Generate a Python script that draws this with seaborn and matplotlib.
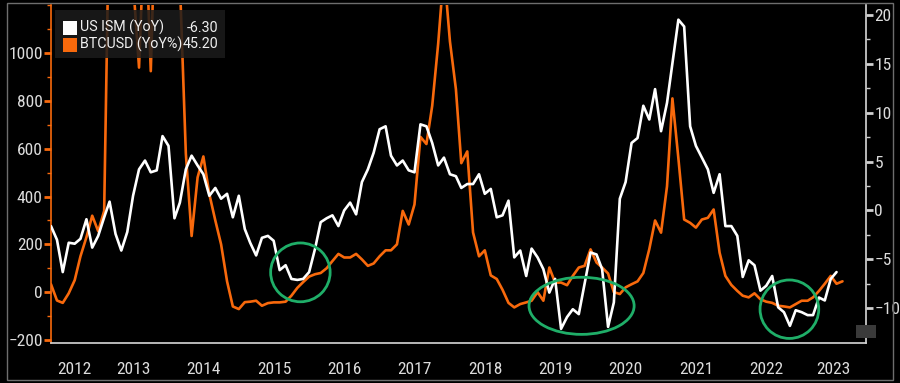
import numpy as np
import pandas as pd
import seaborn as sns
import matplotlib.pyplot as plt
import matplotlib.dates as mdates
from matplotlib.patches import Ellipse, Rectangle

# US ISM manufacturing (YoY), monthly from May 2012, right axis
ism_2012 = [-1.6, -3.0, -6.3, -3.3, -3.4, -2.9, -0.9, -3.8]
ism_2013 = [-2.6, -0.7, 0.9, -2.4, -4.1, -2.2, 1.5, 4.2, 5.1, 3.9, 4.1, 7.6]
ism_2014 = [6.6, -0.8, 0.8, 4.2, 5.6, 4.6, 3.7, 1.5, 2.3, 1.2, 1.7, -0.7]
ism_2015 = [1.5, -1.9, -3.3, -4.6, -2.8, -2.6, -3.1, -6.1, -5.6, -7.0, -7.1, -7.0]
ism_2016 = [-6.3, -3.9, -1.2, -0.8, -0.5, -1.6, 0.0, 0.8, -0.4, 2.9, 4.2, 5.9]
ism_2017 = [8.3, 8.6, 5.6, 4.6, 5.1, 4.1, 3.9, 8.8, 8.6, 6.9, 4.6, 5.4]
ism_2018 = [3.7, 3.5, 2.3, 2.7, 2.7, 3.7, 1.7, 2.2, -0.7, -0.5, 1.0, -4.8]
ism_2019 = [-4.1, -6.7, -3.9, -4.8, -6.0, -8.4, -7.0, -12.1, -10.9, -10.1, -10.6, -7.5]
ism_2020 = [-4.3, -4.5, -6.0, -11.9, -9.4, 1.2, 2.9, 6.9, 7.4, 10.7, 9.3, 12.4]
ism_2021 = [8.1, 11.0, 15.0, 19.5, 18.8, 8.6, 6.6, 5.4, 4.2, 1.8, 3.7, -1.6]
ism_2022 = [-1.6, -2.6, -6.8, -5.1, -5.6, -8.2, -7.7, -6.7, -9.9, -10.4, -11.8, -10.2]
ism_2023 = [-10.4, -10.7, -10.7, -8.9, -9.2, -7.0, -6.3]

# BTCUSD (YoY%), monthly from May 2012, left axis
btc_2012 = [33, -35, -45, -5, 50, 150, 230, 320]
btc_2013 = [255, 340, 1700, 2700, 2400, 1350, 1300, 940, 1600, 925, 1800, 5400]
btc_2014 = [3900, 1600, 1300, 580, 235, 480, 568, 410, 300, 200, 45, -60]
btc_2015 = [-71, -42, -40, -36, -57, -46, -43, -43, -40, -15, 18, 42]
btc_2016 = [65, 75, 80, 100, 130, 160, 145, 145, 160, 137, 110, 120]
btc_2017 = [150, 175, 175, 200, 340, 283, 367, 650, 620, 780, 1040, 1350]
btc_2018 = [1050, 850, 540, 589, 250, 150, 175, 70, 55, 10, -45, -64]
btc_2019 = [-50, -43, -36, 0, -36, 103, 40, 40, 29, 68, 103, 110]
btc_2020 = [179, 124, 103, 78, 0, -8, 20, 33, 45, 80, 180, 300]
btc_2021 = [249, 443, 811, 560, 304, 290, 270, 304, 311, 346, 165, 68]
btc_2022 = [30, 5, -15, -22, -5, -30, -40, -45, -57, -60, -64, -50]
btc_2023 = [-36, -36, -22, 5, 35, 68, 35, 45.2]

ism = (ism_2012 + ism_2013 + ism_2014 + ism_2015 + ism_2016 + ism_2017
       + ism_2018 + ism_2019 + ism_2020 + ism_2021 + ism_2022 + ism_2023)
btc = (btc_2012 + btc_2013 + btc_2014 + btc_2015 + btc_2016 + btc_2017
       + btc_2018 + btc_2019 + btc_2020 + btc_2021 + btc_2022 + btc_2023)

ism_dates = pd.date_range('2012-05-01', periods=len(ism), freq='MS')
btc_dates = pd.date_range('2012-05-01', periods=len(btc), freq='MS')

years = list(range(2012, 2024))
year_labels = [str(y) for y in years]
ism_label = 'US ISM (YoY)'
btc_label = 'BTCUSD (YoY%)'

ORANGE = '#f8690c'
GREEN = '#1fae68'
TXT = '#dcdcdc'

sns.set_theme(style='dark', rc={'axes.facecolor': 'black', 'figure.facecolor': 'black',
                                'axes.grid': False})
plt.rcParams['font.family'] = ['Roboto Condensed', 'Archivo Narrow', 'DejaVu Sans']
LEGEND_FONT = ['Roboto', 'DejaVu Sans']

fig = plt.figure(figsize=(9, 3.83), dpi=100)
W, H = 900, 383
ax = fig.add_axes([51 / W, 40 / H, 815 / W, 338 / H])
ax2 = ax.twinx()

sns.lineplot(x=btc_dates, y=btc, ax=ax, color=ORANGE, lw=1.9)
sns.lineplot(x=ism_dates, y=ism, ax=ax2, color='white', lw=1.9)

# x axis: year separators + centred year labels
x_left = pd.Timestamp('2012-05-01')
x_right = pd.Timestamp('2023-12-01')
ax.set_xlim(x_left, x_right)
bounds = [pd.Timestamp(f'{y}-01-01') for y in years[1:]]
edges = [mdates.date2num(x_left)] + [mdates.date2num(b) for b in bounds] + [mdates.date2num(x_right)]
centers = [(edges[i] + edges[i + 1]) / 2 for i in range(len(years))]
ax.set_xticks([mdates.date2num(b) for b in bounds])
ax.set_xticklabels([])
ax.set_xticks(centers, minor=True)
ax.set_xticklabels(year_labels, minor=True)
ax.tick_params(axis='x', which='major', direction='out', length=26.6, width=0.9, color='#8a8a8a')
ax.tick_params(axis='x', which='minor', length=0, pad=14, labelsize=12.5, labelcolor=TXT)

# left axis (BTC)
ax.set_ylim(-213, 1202)
ax.set_yticks(range(-200, 1001, 200))
ax.set_yticks(list(range(-100, 1200, 200)) + [1200], minor=True)
ax.tick_params(axis='y', which='major', direction='out', length=5, width=2, color=ORANGE,
               labelcolor=TXT, labelsize=12.5, pad=1)
ax.tick_params(axis='y', which='minor', direction='out', length=3, width=1, color=ORANGE)

# right axis (ISM)
ax2.set_ylim(-13.55, 21.0)
ax2.set_yticks(range(-10, 21, 5))
ax2.set_yticks(np.arange(-12.5, 20, 5), minor=True)
ax2.tick_params(axis='y', which='major', direction='out', length=5, width=2, color='#cfcfcf',
                labelcolor=TXT, labelsize=12.5, pad=1)
ax2.tick_params(axis='y', which='minor', direction='out', length=3, width=1, color='#cfcfcf')

for a in (ax, ax2):
    a.set_xlabel('')
    a.set_ylabel('')
    a.spines['top'].set_visible(False)
ax.spines['left'].set_color(ORANGE)
ax.spines['left'].set_linewidth(1.2)
ax.spines['bottom'].set_color('#cfcfcf')
ax.spines['right'].set_visible(False)
ax2.spines['left'].set_visible(False)
ax2.spines['bottom'].set_visible(False)
ax2.spines['right'].set_color('#cfcfcf')

# green highlight ellipses
for cx, cy, w, h in [(0.306, 0.209, 0.073, 0.174), (0.651, 0.110, 0.129, 0.169), (0.906, 0.100, 0.072, 0.173)]:
    ax2.add_patch(Ellipse((cx, cy), w, h, transform=ax.transAxes, fill=False, ec=GREEN, lw=2, zorder=6))

# legend box with last values
ax2.add_patch(Rectangle((55 / W, 1 - 58 / H), 170 / W, 48 / H, transform=fig.transFigure,
                        fc='#1c1c1c', ec='none', alpha=0.85, zorder=7))
for i, (lab, col, val) in enumerate([(ism_label, 'white', ism[-1]), (btc_label, ORANGE, btc[-1])]):
    yc = 1 - (27.5 + 17 * i) / H
    ax2.add_patch(Rectangle((63 / W, yc - 7 / H), 14 / W, 14 / H, transform=fig.transFigure,
                            fc=col, ec='none', zorder=8))
    fig.text(80 / W, yc, lab, color='#f0f0f0', fontsize=10.3, family=LEGEND_FONT,
             va='center', ha='left', zorder=9)
    fig.text(218 / W, yc, f'{val:.2f}', color='#f0f0f0', fontsize=10.3, family=LEGEND_FONT,
             va='center', ha='right', zorder=9)

# small chart icon bottom right and outer frame
fig.add_artist(Rectangle((856 / W, 1 - 338 / H), 20 / W, 13 / H, transform=fig.transFigure,
                         fc='#3a3a3a', ec='none'))
fig.add_artist(Rectangle((7 / W, 3 / H), 886 / W, 377 / H, transform=fig.transFigure,
                         fill=False, ec='#6e6e6e', lw=1))

fig.savefig('out.png', dpi=100, facecolor='black')
